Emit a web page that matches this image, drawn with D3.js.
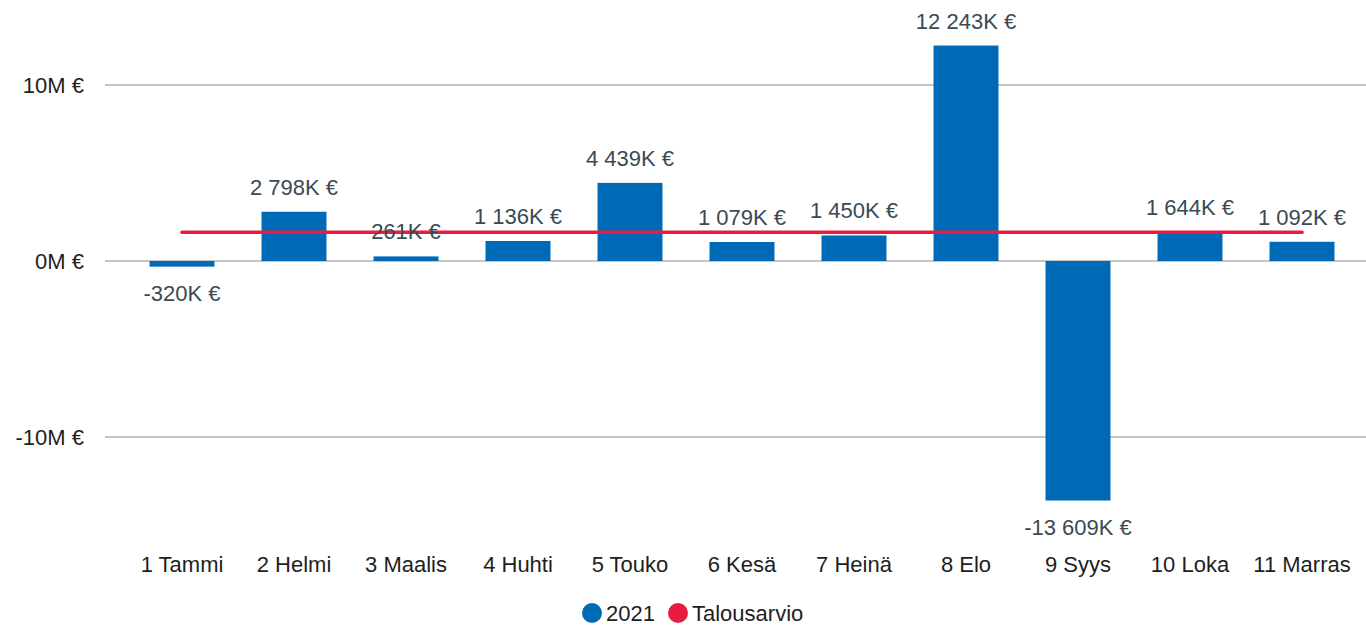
<!DOCTYPE html>
<html>
<head>
<meta charset="utf-8">
<script src="https://cdn.jsdelivr.net/npm/d3@7"></script>
<style>
  body { margin: 0; background: #fff; }
  svg { display: block; font-family: "Liberation Sans", Arial, sans-serif; }
</style>
</head>
<body>
<svg id="chart" width="1366" height="627"></svg>
<script>
// data (values in K €)
const months = ["1 Tammi", "2 Helmi", "3 Maalis", "4 Huhti", "5 Touko", "6 Kesä",
  "7 Heinä", "8 Elo", "9 Syys", "10 Loka", "11 Marras"];
const actual2021 = [-320, 2798, 261, 1136, 4439, 1079, 1450, 12243, -13609, 1644, 1092];
const budget = [1630, 1630, 1630, 1630, 1630, 1630, 1630, 1630, 1630, 1630, 1630];
const yTicks = [-10000, 0, 10000];

const svg = d3.select("#chart");
const blue = "#006ab7", red = "#e81c40";

// scales
const x = d3.scaleBand()
  .domain(months)
  .range([126, 1358])
  .paddingInner(0.42)
  .paddingOuter(0.21);

const y = d3.scaleLinear()
  .domain([-15000, 15000])
  .range([525, -3]);

// gridlines + y labels
svg.append("g")
  .selectAll("line")
  .data(yTicks)
  .join("line")
  .attr("x1", 105)
  .attr("x2", 1366)
  .attr("y1", d => y(d))
  .attr("y2", d => y(d))
  .attr("stroke", "#c6c6c6")
  .attr("stroke-width", 2);

svg.append("g")
  .selectAll("text")
  .data(yTicks)
  .join("text")
  .attr("x", 84)
  .attr("y", d => y(d) + 8)
  .attr("text-anchor", "end")
  .attr("font-size", 22)
  .attr("fill", "#1e1e1e")
  .text(d => (d / 1000) + "M €");

// bars
svg.append("g")
  .selectAll("rect")
  .data(actual2021)
  .join("rect")
  .attr("x", (d, i) => x(months[i]))
  .attr("width", x.bandwidth())
  .attr("y", d => y(Math.max(0, d)))
  .attr("height", d => Math.abs(y(d) - y(0)))
  .attr("fill", blue);

// budget line
const line = d3.line()
  .x((d, i) => x(months[i]) + x.bandwidth() / 2)
  .y(d => y(d));

svg.append("path")
  .datum(budget)
  .attr("d", line)
  .attr("fill", "none")
  .attr("stroke", red)
  .attr("stroke-width", 3.5)
  .attr("stroke-linecap", "round");

// value labels
const fmt = v => {
  const s = d3.format(",")(Math.abs(v)).replace(/,/g, " ");
  return (v < 0 ? "-" : "") + s + "K €";
};

svg.append("g")
  .selectAll("text")
  .data(actual2021)
  .join("text")
  .attr("x", (d, i) => x(months[i]) + x.bandwidth() / 2)
  .attr("y", d => d >= 0 ? y(d) - 17 : y(d) + 34)
  .attr("text-anchor", "middle")
  .attr("font-size", 22)
  .attr("fill", "#3b4a52")
  .text(fmt);

// category labels
svg.append("g")
  .selectAll("text")
  .data(months)
  .join("text")
  .attr("x", d => x(d) + x.bandwidth() / 2)
  .attr("y", 572)
  .attr("text-anchor", "middle")
  .attr("font-size", 22)
  .attr("fill", "#1e1e1e")
  .text(d => d);

// legend
const legendItems = [
  { name: "2021", color: blue, cx: 592 },
  { name: "Talousarvio", color: red, cx: 678 }
];
const legend = svg.append("g")
  .selectAll("g")
  .data(legendItems)
  .join("g");
legend.append("circle")
  .attr("cx", d => d.cx)
  .attr("cy", 613)
  .attr("r", 10)
  .attr("fill", d => d.color);
legend.append("text")
  .attr("x", d => d.cx + 14)
  .attr("y", 621)
  .attr("font-size", 22)
  .attr("fill", "#1e1e1e")
  .text(d => d.name);
</script>
</body>
</html>
